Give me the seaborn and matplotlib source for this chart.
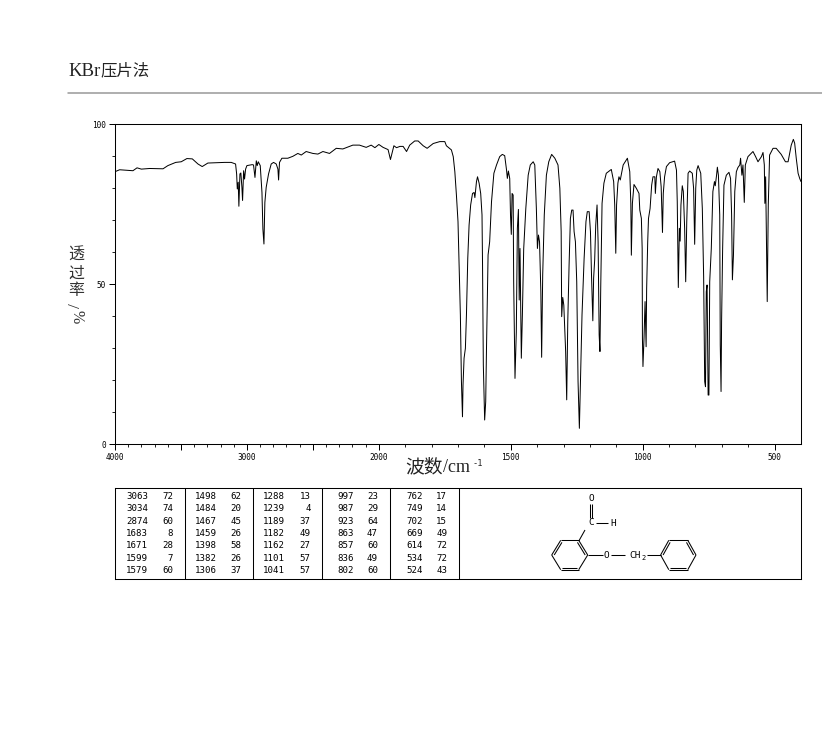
import numpy as np
import matplotlib
matplotlib.use("Agg")
import matplotlib.pyplot as plt
from matplotlib.lines import Line2D
from matplotlib.ticker import FixedLocator, FixedFormatter
import seaborn as sns

wavenumber = [
4000,3965,3864,3833,3800,3737,3636,3599,3540,3498,3455,3414,3371,3339,3296,3233,3169,3119,3086,3078,
3073,3066,3061,3053,3046,3038,3033,3025,3018,3010,3000,2960,2950,2939,2929,2922,2914,2899,2886,2879,
2871,2864,2854,2836,2816,2798,2778,2765,2760,2753,2735,2690,2652,2614,2588,2551,2500,2462,2424,2374,
2323,2273,2197,2147,2096,2058,2030,2000,1984,1965,1956,1943,1933,1920,1908,1895,1883,1864,1851,1832,
1817,1794,1769,1750,1744,1725,1718,1712,1706,1700,1696,1691,1687,1683,1681,1677,1672,1668,1663,1658,
1652,1645,1639,1636,1630,1626,1620,1614,1609,1607,1604,1599,1595,1592,1586,1580,1573,1564,1554,1542,
1532,1523,1516,1513,1509,1504,1501,1498,1495,1491,1489,1484,1479,1475,1471,1468,1465,1460,1456,1451,
1443,1434,1426,1415,1409,1403,1399,1395,1391,1386,1383,1379,1373,1365,1356,1345,1333,1321,1314,1309,
1307,1303,1299,1292,1288,1284,1279,1274,1269,1264,1260,1255,1250,1245,1240,1236,1230,1222,1215,1210,
1203,1198,1194,1189,1186,1182,1178,1173,1169,1165,1162,1159,1154,1147,1138,1119,1110,1106,1102,1099,
1094,1090,1085,1074,1058,1049,1045,1043,1039,1033,1024,1014,1011,1005,1002,1001,999,995,991,987,
985,981,978,972,966,961,954,952,948,942,935,930,925,922,917,910,898,879,872,869,
865,861,858,855,850,846,841,837,833,828,822,812,807,803,799,795,790,780,774,769,
765,762,759,756,752,749,746,740,734,728,725,720,717,713,708,706,703,701,697,692,
683,673,667,663,660,656,651,645,639,632,629,624,620,615,611,601,582,572,563,550,
544,539,537,534,528,524,519,506,494,475,459,449,437,429,424,418,411,405,400]
transmittance = [
85.1,85.7,85.4,86.3,85.9,86.1,86.0,87.0,88.0,88.2,89.2,89.1,87.5,86.7,87.8,87.9,88.0,88.0,87.5,84.4,
79.7,81.8,74.3,84.4,84.7,80.2,76.1,85.4,82.8,85.9,87.0,87.3,87.2,83.3,88.5,87.0,88.2,87.0,78.6,67.2,
62.5,75.5,80.2,84.4,87.5,88.0,87.5,85.9,82.5,88.0,89.3,89.3,89.9,90.8,90.3,91.4,90.8,90.6,91.4,90.8,
92.4,92.2,93.4,93.4,92.7,93.4,92.6,93.6,92.7,92.0,88.9,93.2,92.6,93.0,93.0,91.4,93.4,94.7,94.7,93.2,
92.4,93.9,94.5,94.5,93.2,91.9,89.8,85.1,77.8,69.5,55.9,40.3,19.5,8.5,18.4,26.8,29.9,40.3,58.0,68.4,
74.7,78.3,78.6,77.0,82.0,83.5,81.5,78.3,71.6,55.9,24.7,7.5,13.2,29.9,59.1,63.2,75.7,84.6,87.2,89.8,
90.5,90.1,85.6,83.0,85.3,83.0,71.6,65.5,78.3,77.8,50.7,20.5,35.0,67.4,73.3,45.0,61.1,26.8,40.3,61.0,
73.6,84.0,87.2,88.2,87.2,73.6,61.1,65.3,63.2,47.6,27.1,52.8,71.6,84.0,88.2,90.5,89.3,87.2,79.9,66.4,
39.8,45.8,43.4,28.9,13.8,38.2,55.9,70.5,73.1,73.1,66.4,63.2,50.7,19.5,4.9,19.5,40.3,58.0,69.5,72.6,
72.6,66.4,52.8,38.5,51.8,57.5,68.4,74.7,63.2,34.1,28.9,49.2,75.2,81.5,84.6,85.8,82.0,74.7,59.6,74.7,
81.5,83.5,82.5,87.2,89.3,85.1,75.2,59.0,75.2,81.1,79.9,78.3,73.1,70.5,61.1,33.0,24.2,33.0,44.5,30.4,
48.6,63.2,70.5,73.6,80.9,83.5,83.5,78.3,83.5,86.1,85.1,80.4,66.1,78.3,83.5,86.7,87.9,88.4,85.6,75.7,
48.9,67.4,63.4,74.7,80.7,78.9,67.4,50.7,69.5,84.6,85.3,84.6,79.9,62.4,79.9,85.6,87.0,84.6,73.6,52.3,
19.5,17.9,47.6,49.7,15.3,15.3,50.7,61.1,78.9,82.0,80.7,84.0,86.5,84.0,71.6,30.9,16.4,38.2,61.1,80.9,
84.0,84.9,83.0,71.6,51.3,59.0,78.9,85.1,86.4,87.2,89.3,84.0,87.2,75.5,87.2,89.8,91.4,89.8,88.2,89.8,
91.1,87.2,75.2,83.5,44.5,74.7,90.3,92.4,92.4,90.5,88.2,88.2,93.4,95.2,94.0,89.3,84.6,83.0,82.0]

x_major = [4000, 3500, 3000, 2500, 2000, 1500, 1000, 500]
x_major_labels = ["4000", "", "3000", "", "2000", "1500", "1000", "500"]
y_major = [0, 50, 100]

peak_wave = [
    [3063, 3034, 2874, 1683, 1671, 1599, 1579],
    [1498, 1484, 1467, 1459, 1398, 1382, 1306],
    [1288, 1239, 1189, 1182, 1162, 1101, 1041],
    [997, 987, 923, 863, 857, 836, 802],
    [762, 749, 702, 669, 614, 534, 524],
]
peak_value = [
    [72, 74, 60, 8, 28, 7, 60],
    [62, 20, 45, 26, 58, 26, 37],
    [13, 4, 37, 49, 27, 57, 57],
    [23, 29, 64, 47, 60, 49, 60],
    [17, 14, 15, 49, 72, 72, 43],
]

sns.set_style("white")
W, H = 822, 737
fig = plt.figure(figsize=(W / 100, H / 100), dpi=100, facecolor="white")

def box(l, t, r, b):
    return [l / W, 1 - b / H, (r - l) / W, (b - t) / H]

ax = fig.add_axes(box(115, 124, 801, 444))

def fwd(v):
    v = np.asarray(v, dtype=float)
    return np.where(v <= 2000, v, 2000 + (v - 2000) / 2)

def inv(v):
    v = np.asarray(v, dtype=float)
    return np.where(v <= 2000, v, 2000 + (v - 2000) * 2)

sns.lineplot(x=wavenumber, y=transmittance, ax=ax, color="black", lw=0.72,
             sort=False, estimator=None, errorbar=None)
ax.set_xscale("function", functions=(fwd, inv))
ax.set_xlim(4000, 400)
ax.set_ylim(0, 100)

ax.xaxis.set_major_locator(FixedLocator(x_major))
ax.xaxis.set_major_formatter(FixedFormatter(x_major_labels))
ax.xaxis.set_minor_locator(FixedLocator(list(range(3900, 400, -100))))
ax.yaxis.set_major_locator(FixedLocator(y_major))
ax.yaxis.set_minor_locator(FixedLocator(list(range(0, 101, 10))))
small = dict(labelsize=5.6, labelfontfamily="DejaVu Sans Mono", colors="black")
ax.tick_params(axis="both", which="major", direction="out", length=4, width=0.72,
               bottom=True, left=True, pad=2.5, **small)
ax.tick_params(axis="both", which="minor", direction="out", length=2, width=0.72,
               bottom=True, left=True)
for s in ax.spines.values():
    s.set_visible(True)
    s.set_color("black")
    s.set_linewidth(0.75)
ax.set_xlabel("")
ax.set_ylabel("")

def T(x, y, s, **kw):
    fig.text(x / W, 1 - y / H, s, **kw)

serif = ["Liberation Serif", "Noto Sans CJK SC", "DejaVu Sans"]
T(68, 71, "KBr", family="Liberation Serif", fontsize=13.5, color="#222222", ha="left", va="center")
T(100, 71, "压片法", family="Noto Sans CJK SC", fontsize=11.8, color="#222222", ha="left", va="center")
fig.add_artist(Line2D([68 / W, 1], [1 - 93 / H, 1 - 93 / H], color="#999999", lw=1.1))

for yy, ch in zip([256, 274, 291], "透过率"):
    T(76, yy, ch, family=serif, fontsize=11.5, color="#333333", ha="center", va="center")
T(76, 306, "/", family=serif, fontsize=12.5, color="#333333", ha="center", va="center", rotation=90)
T(76, 317, "%", family=serif, fontsize=11.5, color="#333333", ha="center", va="center", rotation=-90)

T(405, 467, "波数", family="Noto Sans CJK SC", fontsize=13.5, color="#222222", ha="left", va="center")
T(443, 467, "/cm", family="Liberation Serif", fontsize=13, color="#222222", ha="left", va="center")
T(472, 463, "-1", family="DejaVu Sans Mono", fontsize=6.2, color="#222222", ha="left", va="center")

# peak table and structure panel
tb = fig.add_axes(box(115, 488, 801, 579))
tb.set_xlim(115, 801)
tb.set_ylim(579, 488)
tb.set_xticks([])
tb.set_yticks([])
for s in tb.spines.values():
    s.set_visible(True)
    s.set_color("black")
    s.set_linewidth(0.75)
for xv in [184.5, 252.5, 322, 389.5, 458.5]:
    tb.axvline(xv, color="black", lw=0.75)
wave_right = [148.3, 216.7, 285, 354, 422.7]
val_right = [173.3, 241.7, 310.7, 378, 447.3]
row_y = 496.3
for cw, cv, xr, vr in zip(peak_wave, peak_value, wave_right, val_right):
    for i, (a, b) in enumerate(zip(cw, cv)):
        yy = row_y + i * 12.35
        tb.text(xr, yy, str(a), family="DejaVu Sans Mono", fontsize=6.6, ha="right", va="center", color="black")
        tb.text(vr, yy, str(b), family="DejaVu Sans Mono", fontsize=6.6, ha="right", va="center", color="black")

def seg(x0, y0, x1, y1):
    tb.plot([x0, x1], [y0, y1], color="black", lw=0.75, solid_capstyle="butt")

def ring(cx, cy, dx, hx, dy, doubles):
    pts = [(cx - dx, cy), (cx - hx, cy - dy), (cx + hx, cy - dy),
           (cx + dx, cy), (cx + hx, cy + dy), (cx - hx, cy + dy)]
    for i in range(6):
        x0, y0 = pts[i]
        x1, y1 = pts[(i + 1) % 6]
        seg(x0, y0, x1, y1)
    for i in doubles:
        x0, y0 = pts[i]
        x1, y1 = pts[(i + 1) % 6]
        sx, sy = (cx - x0) * 0.14, (cy - y0) * 0.14
        ex, ey = (cx - x1) * 0.14, (cy - y1) * 0.14
        seg(x0 + sx, y0 + sy, x1 + ex, y1 + ey)

ring(569.7, 555, 18, 9, 14.7, [0, 2, 4])
ring(678.3, 555, 17.7, 9.5, 14.7, [0, 2, 4])
seg(587.7, 555, 602.5, 555)
seg(611, 555, 625, 555)
seg(646.5, 555, 660.7, 555)
seg(579, 540.7, 585, 530)
seg(596, 522.7, 608, 522.7)
seg(589.7, 504, 589.7, 518)
seg(592, 504, 592, 518)
mol = dict(family="DejaVu Sans Mono", fontsize=6.8, ha="center", va="center", color="black")
tb.text(606.7, 555, "O", **mol)
tb.text(591, 522.7, "C", **mol)
tb.text(613.5, 523, "H", **mol)
tb.text(591, 498.5, "O", **mol)
tb.text(635, 555, "CH", **mol)
tb.text(644, 557.5, "2", family="DejaVu Sans Mono", fontsize=5, ha="center", va="center", color="black")

fig.savefig("out.png", dpi=100, facecolor="white")
